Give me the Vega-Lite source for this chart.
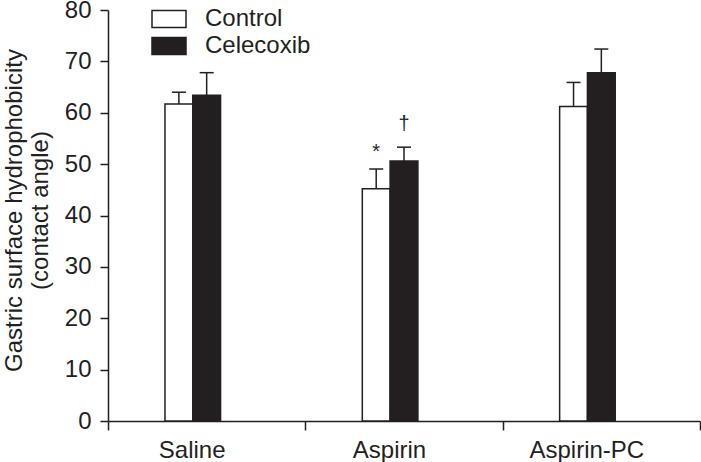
{
  "$schema": "https://vega.github.io/schema/vega-lite/v6.json",
  "autosize": {"type": "none"},
  "padding": {"left": 108, "top": 10, "right": 1, "bottom": 41},
  "width": 592,
  "height": 411,
  "background": "white",
  "config": {
    "font": "Liberation Sans",
    "view": {"stroke": null},
    "axis": {"grid": false, "domainColor": "#231f20", "tickColor": "#231f20", "labelColor": "#231f20", "titleColor": "#231f20", "domainWidth": 1.5, "tickWidth": 1.5, "labelFont": "Liberation Sans", "titleFont": "Liberation Sans"}
  },
  "datasets": {
    "bars": [
      {"group": "Saline", "treatment": "Control", "value": 61.7, "upper": 64.0},
      {"group": "Saline", "treatment": "Celecoxib", "value": 63.4, "upper": 67.8},
      {"group": "Aspirin", "treatment": "Control", "value": 45.2, "upper": 49.05},
      {"group": "Aspirin", "treatment": "Celecoxib", "value": 50.6, "upper": 53.3},
      {"group": "Aspirin-PC", "treatment": "Control", "value": 61.2, "upper": 65.9},
      {"group": "Aspirin-PC", "treatment": "Celecoxib", "value": 67.8, "upper": 72.4}
    ],
    "marks": [
      {"group": "Aspirin", "treatment": "Control", "y": 52.4, "label": "*"},
      {"group": "Aspirin", "treatment": "Celecoxib", "y": 57.8, "label": "†"}
    ]
  },
  "encoding": {
    "x": {
      "field": "group", "type": "nominal",
      "scale": {"domain": ["Saline", "Aspirin", "Aspirin-PC"], "paddingInner": 0, "paddingOuter": 0},
      "axis": {"title": null, "labelAngle": 0, "labelFontSize": 24, "tickBand": "extent", "tickSize": 9, "labelPadding": 8, "labelOffset": -15}
    },
    "xOffset": {
      "field": "treatment", "type": "nominal",
      "scale": {"domain": ["a", "b", "Control", "Celecoxib", "c", "d", "e"], "paddingInner": 0, "paddingOuter": 0.05}
    }
  },
  "layer": [
    {
      "data": {"name": "bars"},
      "mark": {"type": "bar", "stroke": "#231f20", "strokeWidth": 1.5},
      "encoding": {
        "y": {
          "field": "value", "type": "quantitative",
          "scale": {"domain": [0, 80], "nice": false},
          "axis": {"values": [0, 10, 20, 30, 40, 50, 60, 70, 80], "labelFontSize": 24, "tickSize": 8, "labelPadding": 9,
            "title": ["Gastric surface hydrophobicity", "(contact angle)"], "titleFontSize": 24, "titleFontWeight": "normal",
            "titleAngle": -90, "titleBaseline": "top", "titleX": -106, "titleY": 200, "titleLineHeight": 26, "titleAnchor": "middle", "titleAlign": "center"}
        },
        "fill": {
          "field": "treatment", "type": "nominal",
          "scale": {"domain": ["Control", "Celecoxib"], "range": ["white", "#231f20"]},
          "legend": {"title": null, "orient": "none", "legendX": 49, "legendY": -3, "padding": 0,
            "symbolType": "M-2,-1H2V1H-2Z", "symbolSize": 289, "symbolStrokeColor": "#231f20", "symbolStrokeWidth": 1.5,
            "labelFontSize": 24, "labelColor": "#231f20", "labelOffset": 24, "rowPadding": 3, "labelFont": "Liberation Sans"}
        }
      }
    },
    {
      "data": {"name": "bars"},
      "mark": {"type": "rule", "stroke": "#231f20", "strokeWidth": 1.5},
      "encoding": {
        "y": {"field": "value", "type": "quantitative"},
        "y2": {"field": "upper"}
      }
    },
    {
      "data": {"name": "bars"},
      "mark": {"type": "tick", "color": "#231f20", "thickness": 1.5, "size": 14, "opacity": 1},
      "encoding": {
        "y": {"field": "upper", "type": "quantitative"}
      }
    },
    {
      "data": {"name": "marks"},
      "mark": {"type": "text", "fontSize": 20, "fill": "#231f20", "baseline": "middle", "align": "center"},
      "encoding": {
        "y": {"field": "y", "type": "quantitative"},
        "text": {"field": "label"}
      }
    }
  ]
}
